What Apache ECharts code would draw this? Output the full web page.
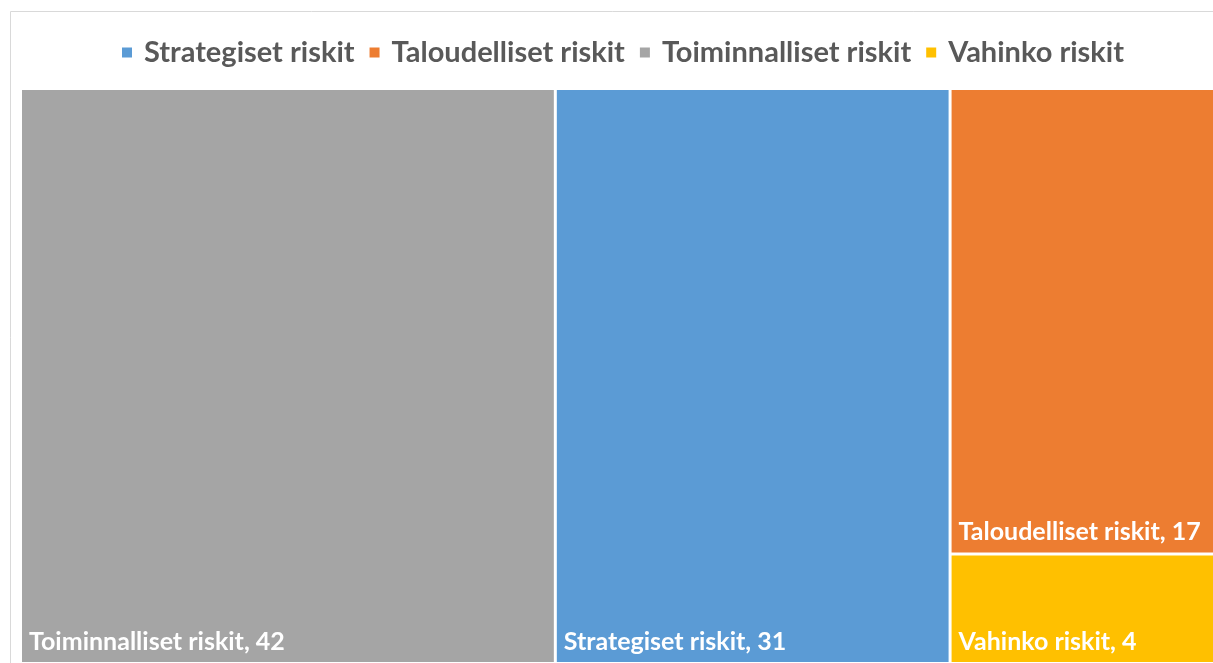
<!DOCTYPE html>
<html>
<head>
<meta charset="utf-8">
<script src="https://cdn.jsdelivr.net/npm/echarts@6/dist/echarts.min.js"></script>
<style>html,body{margin:0;padding:0;background:#fff;}#c{width:1213px;height:663px;}</style>
</head>
<body>
<div id="c"></div>
<script>
var categories = ['Strategiset riskit', 'Taloudelliset riskit', 'Toiminnalliset riskit', 'Vahinko riskit'];
var values = [31, 17, 42, 4];
var colors = ['#5B9BD5', '#ED7D31', '#A5A5A5', '#FFC000'];

var chart = echarts.init(document.getElementById('c'));
var treeData = categories.map(function (n, i) {
  return { name: n, value: values[i], itemStyle: { color: colors[i] } };
});
var legendData = categories.map(function (n, i) {
  return { name: n, value: values[i], itemStyle: { color: colors[i] } };
});
chart.setOption({
  animation: false,
  graphic: [{
    type: 'rect', silent: true,
    shape: { x: 10.5, y: 11.5, width: 1300, height: 700 },
    style: { fill: 'none', stroke: '#d9d9d9', lineWidth: 1 }
  }],
  legend: {
    top: 33,
    left: 117,
    icon: 'rect',
    itemWidth: 10,
    itemHeight: 10,
    itemGap: 15,
    selectedMode: false,
    data: categories,
    textStyle: { fontFamily: 'Lato', fontWeight: 'bold', fontSize: 29, color: '#595959', padding: [0, 0, 0, 7] }
  },
  series: [{
    type: 'pie',
    radius: [0, 0],
    center: [-100, -100],
    silent: true,
    label: { show: false },
    labelLine: { show: false },
    data: legendData
  }, {
    type: 'treemap',
    left: 22,
    top: 90,
    width: 1194,
    height: 572,
    roam: false,
    nodeClick: false,
    squareRatio: 1,
    breadcrumb: { show: false },
    sort: 'desc',
    levels: [{ itemStyle: { gapWidth: 3, borderWidth: 0, borderColor: '#fff' } }],
    itemStyle: { borderWidth: 0 },
    label: {
      show: true,
      position: 'insideBottomLeft',
      distance: 0,
      padding: [0, 0, 8, 7],
      color: '#fff',
      fontFamily: 'Lato',
      fontWeight: 'bold',
      fontSize: 25,
      formatter: function (p) { return p.name + ', ' + p.value; }
    },
    upperLabel: { show: false },
    data: treeData
  }]
});
</script>
</body>
</html>
